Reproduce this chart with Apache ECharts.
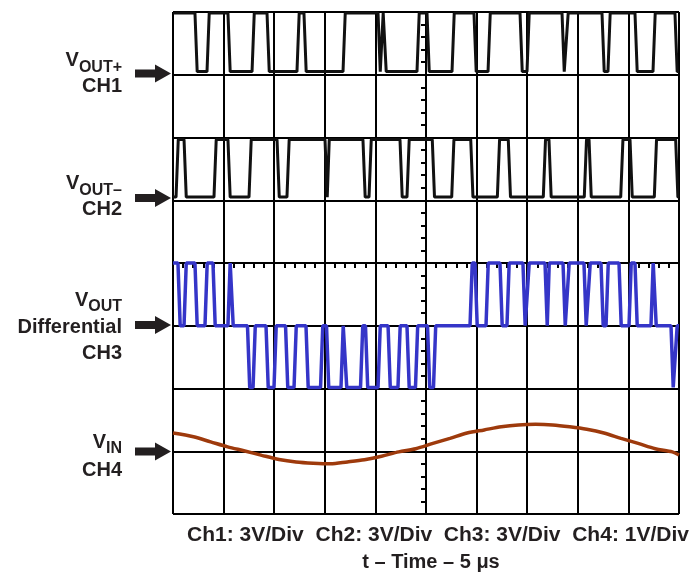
<!DOCTYPE html>
<html><head><meta charset="utf-8">
<script src="https://cdn.jsdelivr.net/npm/echarts@6/dist/echarts.min.js"></script>
<style>html,body{margin:0;padding:0;background:#fff}#c{width:694px;height:575px}</style>
</head><body><div id="c"></div>
<script>
// ---- Data (time in µs from left edge of screen, 5 µs/div) ----
const T_CENTER = 25;
// CH1 (VOUT+), 3 V/div: start level then edge times and level after each edge (V)
const ch1Start = 2.95;
const ch1EdgeTimes = [2.17, 3.36, 5.43, 7.81, 9.29, 12.25, 12.94, 16.80, 20.26, 20.55, 20.85, 24.11, 25.10, 27.57, 29.74, 31.13, 34.29, 34.98, 38.44, 38.83, 42.39, 42.98, 45.65, 47.43, 49.60];
const ch1EdgeLevels = [0.15, 2.95, 0.15, 2.95, 0.15, 2.95, 0.15, 2.95, 0.15, 2.95, 0.15, 2.95, 0.15, 2.95, 0.15, 2.95, 0.15, 2.95, 0.15, 2.95, 0.15, 2.95, 0.15, 2.95, 0.15];
// CH2 (VOUT-), 3 V/div
const ch2Start = 0.15;
const ch2EdgeTimes = [0.30, 1.09, 4.05, 5.43, 7.51, 10.28, 11.26, 15.02, 15.22, 18.77, 19.37, 22.43, 23.12, 25.62, 27.54, 29.42, 32.05, 33.13, 36.59, 37.15, 40.64, 41.11, 44.24, 45.16, 47.56, 49.67];
const ch2EdgeLevels = [2.9, 0.15, 2.9, 0.15, 2.9, 0.15, 2.9, 0.15, 2.9, 0.15, 2.9, 0.15, 2.9, 0.15, 2.9, 0.15, 2.9, 0.15, 2.9, 0.15, 2.9, 0.15, 2.9, 0.15, 2.9, 0.15];
// CH3 (VOUT differential), 3 V/div
const ch3Start = 3;
const ch3EdgeTimes = [0.49, 1.09, 2.17, 3.16, 3.95, 5.43, 5.73, 7.36, 7.91, 9.19, 9.98, 11.12, 11.96, 13.14, 14.58, 15.17, 16.60, 16.95, 18.53, 19.02, 20.26, 21.25, 22.23, 23.12, 23.96, 25.15, 25.74, 29.35, 29.84, 30.93, 32.31, 33.00, 34.58, 34.98, 36.76, 36.96, 38.54, 38.93, 40.61, 41.01, 42.29, 42.79, 44.07, 45.06, 45.65, 47.23, 47.53, 49.21, 49.60];
const ch3EdgeLevels = [0, 3, 0, 3, 0, 3, 0, -2.95, 0, -2.95, 0, -2.95, 0, -2.95, 0, -2.95, 0, -2.95, 0, -2.95, 0, -2.95, 0, -2.95, 0, -2.95, 0, 3, 0, 3, 0, 3, 0, 3, 0, 3, 0, 3, 0, 3, 0, 3, 0, 3, 0, 3, 0, -2.95, 0];
// CH4 (VIN), 1 V/div
const ch4Times = [0, 2.03, 3.72, 5.40, 7.09, 8.78, 10.47, 12.16, 13.85, 15.54, 17.23, 18.92, 20.61, 22.30, 23.99, 25.68, 27.37, 29.06, 30.75, 32.44, 34.13, 35.82, 37.51, 39.20, 40.89, 42.58, 44.27, 45.96, 47.65, 49.34, 50];
const ch4Volts = [0.29, 0.23, 0.15, 0.07, 0.005, -0.065, -0.13, -0.17, -0.19, -0.20, -0.17, -0.135, -0.08, -0.01, 0.04, 0.125, 0.205, 0.29, 0.34, 0.39, 0.42, 0.43, 0.42, 0.39, 0.35, 0.29, 0.205, 0.125, 0.04, -0.01, -0.06];
// channel settings: screen offset (div from centre) and volts/div
const chOffsets = [3, 1, -1, -3];
const chVoltsPerDiv = [3, 3, 3, 1];
const bottomText = 'Ch1: 3V/Div  Ch2: 3V/Div  Ch3: 3V/Div  Ch4: 1V/Div';
const axisTitle = 't \u2013 Time \u2013 5 \u03bcs';

// ---- build ----
const RISE = 0.22;
function stepped(start, times, levels, ch) {
  const off = chOffsets[ch], vd = chVoltsPerDiv[ch];
  const pts = [[0 - T_CENTER, off + start / vd]];
  let prev = start;
  for (let i = 0; i < times.length; i++) {
    pts.push([times[i] - T_CENTER, off + prev / vd]);
    pts.push([times[i] + RISE - T_CENTER, off + levels[i] / vd]);
    prev = levels[i];
  }
  pts.push([50 - T_CENTER, off + prev / vd]);
  return pts;
}
const ch1 = stepped(ch1Start, ch1EdgeTimes, ch1EdgeLevels, 0);
const ch2 = stepped(ch2Start, ch2EdgeTimes, ch2EdgeLevels, 1);
const ch3 = stepped(ch3Start, ch3EdgeTimes, ch3EdgeLevels, 2);
const ch4 = ch4Times.map((t, i) => [t - T_CENTER, chOffsets[3] + ch4Volts[i] / chVoltsPerDiv[3]]);

const FONT = '"Liberation Sans", Arial, Helvetica, sans-serif';
const INK = '#231f20';
const measure = (() => { const c = document.createElement('canvas').getContext('2d'); return (t, f) => { c.font = f; return c.measureText(t).width; }; })();

function axisCommon(isX) {
  return {
    type: 'value', min: isX ? -25 : -4, max: isX ? 25 : 4, interval: isX ? 5 : 1,
    axisLine: { show: true, onZero: true, lineStyle: { color: '#000', width: 2 } },
    axisTick: { show: true, length: 5, lineStyle: { color: '#000', width: 2 } },
    minorTick: { show: true, splitNumber: 5, length: 5, lineStyle: { color: '#000', width: 2 } },
    axisLabel: { show: false },
    splitLine: { show: true, lineStyle: { color: '#000', width: 2 } },
    minorSplitLine: { show: false }
  };
}

const graphics = [];
function txt(text, x, y, size, align) {
  graphics.push({ type: 'text', silent: true, style: { text, x, y, font: 'bold ' + size + 'px ' + FONT, fill: INK, textAlign: align, align: align, textVerticalAlign: 'middle', verticalAlign: 'middle' } });
}
function vlabel(sub, yV, ySub) {
  const f = 'bold 16px ' + FONT;
  const w = measure(sub, f);
  txt(sub, 122, ySub, 16, 'right');
  txt('V', 122 - w, yV, 20, 'right');
}
function arrow(a) {
  graphics.push({ type: 'polygon', silent: true, shape: { points: [[135, a - 4], [155, a - 4], [155, a - 9], [171, a], [155, a + 9], [155, a + 4], [135, a + 4]] }, style: { fill: INK } });
}
vlabel('OUT+', 60, 68); txt('CH1', 122, 86, 20, 'right'); arrow(73.5);
vlabel('OUT\u2013', 183, 191); txt('CH2', 122, 209, 20, 'right'); arrow(198);
vlabel('OUT', 300, 307); txt('Differential', 122, 327, 20, 'right'); txt('CH3', 122, 353, 20, 'right'); arrow(325);
vlabel('IN', 442, 449); txt('CH4', 122, 470, 20, 'right'); arrow(451.5);
txt(bottomText, 438, 535, 21, 'center');
txt(axisTitle, 431, 562, 20, 'center');

const chart = echarts.init(document.getElementById('c'), null, { renderer: 'canvas' });
chart.setOption({
  animation: false,
  backgroundColor: '#fff',
  grid: { left: 173, top: 12, width: 506, height: 502, show: false },
  xAxis: axisCommon(true),
  yAxis: axisCommon(false),
  series: [
    { type: 'line', data: ch1, showSymbol: false, lineStyle: { color: '#111', width: 3 }, z: 5 },
    { type: 'line', data: ch2, showSymbol: false, lineStyle: { color: '#111', width: 3 }, z: 5 },
    { type: 'line', data: ch3, showSymbol: false, lineStyle: { color: '#3535c8', width: 3.5 }, z: 5 },
    { type: 'line', data: ch4, showSymbol: false, smooth: 0.3, lineStyle: { color: '#9e3a0c', width: 3.5 }, z: 5 }
  ],
  graphic: graphics
});
</script></body></html>
